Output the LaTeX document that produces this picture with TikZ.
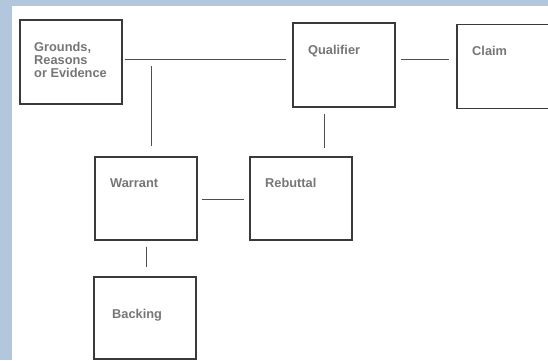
\documentclass[tikz,border=0pt]{standalone}
\usepackage{fontspec}
\setmainfont{Liberation Sans}
\definecolor{frame}{RGB}{178,198,220}
\definecolor{boxline}{RGB}{58,58,58}
\definecolor{txt}{RGB}{118,118,118}
\tikzset{
  box/.style={draw=boxline, line width=1.2pt, fill=white, minimum width=102pt, minimum height=84pt, inner sep=0pt},
  lbl/.style={text=txt, font=\fontsize{12.8}{13}\selectfont\bfseries, inner sep=0pt, align=left},
  link/.style={draw=boxline!90, line width=1pt}
}
\begin{document}
\begin{tikzpicture}[x=1pt,y=-1pt]
  \fill[frame] (0,0) rectangle (548,360);
  \fill[white] (12,6) rectangle (548,360);
  \useasboundingbox (0,0) rectangle (548,360);
  \node[box] (grounds) at (71,62) {};
  \node[box] (qualifier) at (344,65) {};
  \node[box] (claim) at (508,66.5) {};
  \node[box, minimum height=83pt] (warrant) at (146,198.5) {};
  \node[box, minimum height=83pt] (rebuttal) at (301,198.5) {};
  \node[box, minimum height=82pt] (backing) at (145,318) {};
  \node[lbl, anchor=north west] at (34,42.5) {Grounds,\\Reasons\\or Evidence};
  \node[lbl, anchor=base west] at (308,54) {Qualifier};
  \node[lbl, anchor=base west] at (472,55) {Claim};
  \node[lbl, anchor=base west] at (110,187) {Warrant};
  \node[lbl, anchor=base west] at (265,187) {Rebuttal};
  \node[lbl, anchor=base west] at (112,318) {Backing};
  \coordinate (junction) at (151,59);
  \draw[link] ([shift={(2,-3)}]grounds.east) -- ([shift={(-6,-6)}]qualifier.west);
  \draw[link] ([shift={(5,-6)}]qualifier.east) -- ([shift={(-7,-7.5)}]claim.west);
  \draw[link] ([shift={(0,7)}]junction) -- ([shift={(5,-10)}]warrant.north);
  \draw[link] ([shift={(-20,6)}]qualifier.south) -- ([shift={(23,-8)}]rebuttal.north);
  \draw[link] ([shift={(4,0.5)}]warrant.east) -- ([shift={(-5,0.5)}]rebuttal.west);
  \draw[link] ([shift={(0,6)}]warrant.south) -- ([shift={(1,-9)}]backing.north);
\end{tikzpicture}
\end{document}
